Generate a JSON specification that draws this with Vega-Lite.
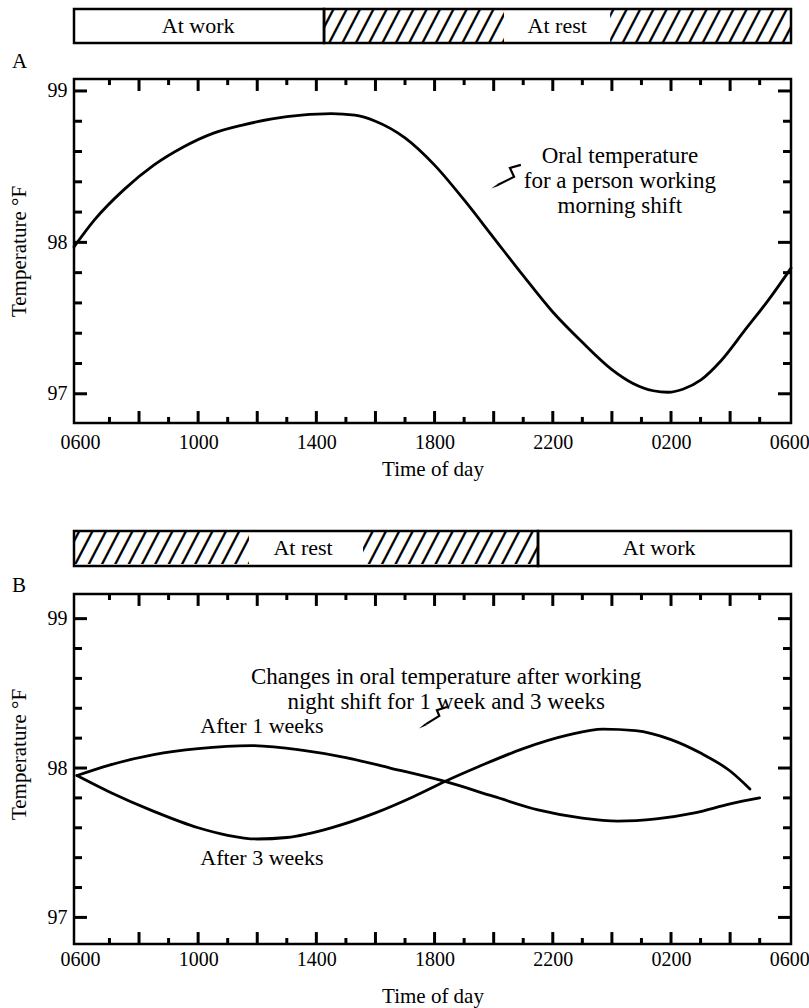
{
  "$schema": "https://vega.github.io/schema/vega-lite/v6.json",
  "background": "white",
  "padding": {"left": 6, "top": 7, "right": 5, "bottom": 5},
  "config": {
    "font": "Liberation Serif",
    "view": {"stroke": null},
    "axis": {"grid": false, "domain": false, "ticks": false, "tickSize": 0, "labelFont": "Liberation Serif", "titleFont": "Liberation Serif", "labelColor": "black", "titleColor": "black", "labelFontSize": 20, "titleFontSize": 21, "titleFontWeight": "normal", "labelOverlap": false, "labelFlush": false, "labelBound": false},
    "text": {"font": "Liberation Serif", "color": "black"},
    "rule": {"color": "black", "strokeWidth": 3},
    "title": {"font": "Liberation Serif", "fontWeight": "normal", "color": "black"}
  },
  "datasets": {
    "barA": [
      {"state": "At work", "start": 5.8, "end": 14.26, "lx": 10.0},
      {"state": "At rest", "start": 14.26, "end": 30.06, "lx": 22.15, "g0": 20.35, "g1": 23.94}
    ],
    "barB": [
      {"state": "At rest", "start": 5.8, "end": 21.5, "lx": 13.55, "g0": 11.72, "g1": 15.58},
      {"state": "At work", "start": 21.5, "end": 30.06, "lx": 25.6}
    ],
    "xticks": [
      {"t": 7, "k": "minor"}, {"t": 8, "k": "major"}, {"t": 9, "k": "minor"}, {"t": 10, "k": "major"}, {"t": 11, "k": "minor"},
      {"t": 12, "k": "major"}, {"t": 13, "k": "minor"}, {"t": 14, "k": "major"}, {"t": 15, "k": "minor"}, {"t": 16, "k": "major"},
      {"t": 17, "k": "minor"}, {"t": 18, "k": "major"}, {"t": 19, "k": "minor"}, {"t": 20, "k": "major"}, {"t": 21, "k": "minor"},
      {"t": 22, "k": "major"}, {"t": 23, "k": "minor"}, {"t": 24, "k": "major"}, {"t": 25, "k": "minor"}, {"t": 26, "k": "major"},
      {"t": 27, "k": "minor"}, {"t": 28, "k": "major"}, {"t": 29, "k": "minor"}
    ],
    "yticks": [
      {"v": 97, "k": "major"}, {"v": 97.2, "k": "minor"}, {"v": 97.4, "k": "minor"}, {"v": 97.6, "k": "minor"}, {"v": 97.8, "k": "minor"},
      {"v": 98, "k": "major"}, {"v": 98.2, "k": "minor"}, {"v": 98.4, "k": "minor"}, {"v": 98.6, "k": "minor"}, {"v": 98.8, "k": "minor"},
      {"v": 99, "k": "major"}
    ],
    "tempA": [
      {"t": 5.8, "temp": 97.97}, {"t": 6.5, "temp": 98.15}, {"t": 7.5, "temp": 98.35}, {"t": 8.5, "temp": 98.51},
      {"t": 9.5, "temp": 98.63}, {"t": 10.5, "temp": 98.72}, {"t": 11.5, "temp": 98.775}, {"t": 12.5, "temp": 98.815},
      {"t": 13.5, "temp": 98.84}, {"t": 14.5, "temp": 98.85}, {"t": 15.3, "temp": 98.84}, {"t": 16.0, "temp": 98.80},
      {"t": 17.0, "temp": 98.69}, {"t": 18.0, "temp": 98.51}, {"t": 19.0, "temp": 98.28}, {"t": 20.0, "temp": 98.03},
      {"t": 21.0, "temp": 97.78}, {"t": 22.0, "temp": 97.54}, {"t": 23.0, "temp": 97.34}, {"t": 24.0, "temp": 97.16},
      {"t": 24.7, "temp": 97.07}, {"t": 25.4, "temp": 97.02}, {"t": 25.9, "temp": 97.01}, {"t": 26.4, "temp": 97.03},
      {"t": 27.0, "temp": 97.09}, {"t": 27.7, "temp": 97.22}, {"t": 28.5, "temp": 97.42}, {"t": 29.3, "temp": 97.62},
      {"t": 30.06, "temp": 97.83}
    ],
    "tempB": [
      {"s": "1 week", "t": 5.9, "temp": 97.95}, {"s": "1 week", "t": 7.0, "temp": 98.02}, {"s": "1 week", "t": 8.5, "temp": 98.09},
      {"s": "1 week", "t": 10.0, "temp": 98.13}, {"s": "1 week", "t": 11.8, "temp": 98.15}, {"s": "1 week", "t": 13.5, "temp": 98.12},
      {"s": "1 week", "t": 15.0, "temp": 98.07}, {"s": "1 week", "t": 16.5, "temp": 98.0}, {"s": "1 week", "t": 18.35, "temp": 97.91},
      {"s": "1 week", "t": 20.0, "temp": 97.81}, {"s": "1 week", "t": 21.5, "temp": 97.72}, {"s": "1 week", "t": 23.0, "temp": 97.665},
      {"s": "1 week", "t": 24.2, "temp": 97.645}, {"s": "1 week", "t": 25.5, "temp": 97.66}, {"s": "1 week", "t": 26.8, "temp": 97.70},
      {"s": "1 week", "t": 28.0, "temp": 97.76}, {"s": "1 week", "t": 29.0, "temp": 97.80},
      {"s": "3 weeks", "t": 5.9, "temp": 97.95}, {"s": "3 weeks", "t": 7.0, "temp": 97.84}, {"s": "3 weeks", "t": 8.5, "temp": 97.71},
      {"s": "3 weeks", "t": 10.0, "temp": 97.60}, {"s": "3 weeks", "t": 11.0, "temp": 97.55}, {"s": "3 weeks", "t": 12.0, "temp": 97.525},
      {"s": "3 weeks", "t": 13.0, "temp": 97.535}, {"s": "3 weeks", "t": 14.5, "temp": 97.60}, {"s": "3 weeks", "t": 16.0, "temp": 97.70},
      {"s": "3 weeks", "t": 17.3, "temp": 97.81}, {"s": "3 weeks", "t": 18.35, "temp": 97.91}, {"s": "3 weeks", "t": 19.5, "temp": 98.01},
      {"s": "3 weeks", "t": 21.0, "temp": 98.13}, {"s": "3 weeks", "t": 22.5, "temp": 98.22}, {"s": "3 weeks", "t": 23.7, "temp": 98.26},
      {"s": "3 weeks", "t": 24.8, "temp": 98.25}, {"s": "3 weeks", "t": 26.0, "temp": 98.19}, {"s": "3 weeks", "t": 27.0, "temp": 98.10},
      {"s": "3 weeks", "t": 28.0, "temp": 97.98}, {"s": "3 weeks", "t": 28.67, "temp": 97.86}
    ],
    "noteA": [{"t": 24.27, "temp": 98.57, "label": "Oral temperature\nfor a person working\nmorning shift"}],
    "noteB": [{"t": 18.39, "temp": 98.61, "label": "Changes in oral temperature after working\nnight shift for 1 week and 3 weeks"}],
    "curveLabB": [{"t": 12.16, "temp": 98.28, "label": "After 1 weeks"}, {"t": 12.16, "temp": 97.40, "label": "After 3 weeks"}],
    "arrowA": [{"i": 1, "t": 20.92, "temp": 98.512}, {"i": 2, "t": 20.55, "temp": 98.492}, {"i": 3, "t": 20.69, "temp": 98.433}, {"i": 4, "t": 20.15, "temp": 98.38}],
    "headA": [{"t": 20.08, "temp": 98.372}],
    "arrowB": [{"i": 1, "t": 18.42, "temp": 98.409}, {"i": 2, "t": 18.08, "temp": 98.387}, {"i": 3, "t": 18.16, "temp": 98.349}, {"i": 4, "t": 17.71, "temp": 98.294}],
    "headB": [{"t": 17.63, "temp": 98.284}]
  },
  "spacing": 28,
  "bounds": "flush",
  "vconcat": [
    {
      "width": 717, "height": 42,
      "data": {"name": "barA"},
      "layer": [
        {
          "transform": [{"filter": "datum.state === 'At rest'"}],
          "mark": {"type": "text", "text": "////////////////////////////////////////////", "fontSize": 48, "fontStyle": "italic", "clip": true, "baseline": "middle", "align": "center", "dy": 2, "font": "Liberation Serif"},
          "encoding": {
            "x": {"field": "lx", "type": "quantitative", "scale": {"domain": [5.8, 30.06], "nice": false, "zero": false}, "axis": null},
            "y": {"datum": 0.5, "type": "quantitative", "scale": {"domain": [-0.23529, 1], "nice": false, "zero": false}, "axis": null}
          }
        },
        {
          "transform": [{"filter": "datum.state === 'At rest'"}],
          "mark": {"type": "rect", "fill": "white", "strokeWidth": 0},
          "encoding": {"x": {"field": "start", "type": "quantitative"}, "x2": {"field": "end"}, "y": {"datum": -0.23529, "type": "quantitative"}, "y2": {"datum": 0}}
        },
        {
          "transform": [{"filter": "datum.state === 'At work'"}],
          "mark": {"type": "rect", "fill": "white", "strokeWidth": 0},
          "encoding": {"x": {"field": "start", "type": "quantitative"}, "x2": {"field": "end"}, "y": {"datum": 0, "type": "quantitative"}, "y2": {"datum": 1}}
        },
        {
          "transform": [{"filter": "datum.state === 'At rest'"}],
          "mark": {"type": "rect", "fill": "white", "strokeWidth": 0},
          "encoding": {"x": {"field": "g0", "type": "quantitative"}, "x2": {"field": "g1"}, "y": {"datum": 0, "type": "quantitative"}, "y2": {"datum": 1}}
        },
        {
          "mark": {"type": "rect", "fillOpacity": 0, "stroke": "black", "strokeWidth": 2.5},
          "encoding": {"x": {"field": "start", "type": "quantitative"}, "x2": {"field": "end"}, "y": {"datum": 0, "type": "quantitative"}, "y2": {"datum": 1}}
        },
        {
          "mark": {"type": "text", "fontSize": 22, "baseline": "middle", "align": "center"},
          "encoding": {"x": {"field": "lx", "type": "quantitative"}, "y": {"datum": 0.5, "type": "quantitative"}, "text": {"field": "state"}}
        }
      ]
    },
    {
      "width": 717, "height": 344,
      "view": {"stroke": "black", "strokeWidth": 2.5},
      "title": {"text": "A", "anchor": "start", "frame": "group", "orient": "top", "offset": 10, "dx": -62, "dy": 21, "baseline": "alphabetic", "fontSize": 21, "fontWeight": "normal"},
      "resolve": {"axis": {"x": "independent", "y": "independent"}},
      "layer": [
        {
          "data": {"name": "tempA"},
          "mark": {"type": "line", "interpolate": "monotone", "color": "black", "strokeWidth": 2.8, "strokeCap": "round"},
          "encoding": {
            "x": {"field": "t", "type": "quantitative", "scale": {"domain": [5.8, 30.06], "nice": false, "zero": false},
              "axis": {"orient": "bottom", "values": [6, 10, 14, 18, 22, 26, 30],
                "labelExpr": "format((datum.value % 24) * 100, '04d')",
                "labelPadding": 9, "title": "Time of day", "titleY": 52, "titleBaseline": "alphabetic"}},
            "y": {"field": "temp", "type": "quantitative", "scale": {"domain": [96.807, 99.079], "nice": false, "zero": false},
              "axis": {"orient": "left", "values": [97, 98, 99], "format": "d",
                "labelPadding": 7, "title": "Temperature °F", "titleX": -49, "titleBaseline": "alphabetic"}}
          }
        },
        {
          "data": {"name": "xticks"}, "transform": [{"filter": "datum.k === 'major'"}],
          "mark": {"type": "rule", "color": "black", "strokeWidth": 3},
          "encoding": {"x": {"field": "t", "type": "quantitative", "axis": null}, "y": {"datum": 96.807, "type": "quantitative", "axis": null}, "y2": {"datum": 96.886}}
        },
        {
          "data": {"name": "xticks"}, "transform": [{"filter": "datum.k === 'minor'"}],
          "mark": {"type": "rule", "color": "black", "strokeWidth": 3},
          "encoding": {"x": {"field": "t", "type": "quantitative", "axis": null}, "y": {"datum": 96.807, "type": "quantitative", "axis": null}, "y2": {"datum": 96.847}}
        },
        {
          "data": {"name": "xticks"}, "transform": [{"filter": "datum.k === 'major'"}],
          "mark": {"type": "rule", "color": "black", "strokeWidth": 3},
          "encoding": {"x": {"field": "t", "type": "quantitative", "axis": null}, "y": {"datum": 99.079, "type": "quantitative", "axis": null}, "y2": {"datum": 99.0}}
        },
        {
          "data": {"name": "xticks"}, "transform": [{"filter": "datum.k === 'minor'"}],
          "mark": {"type": "rule", "color": "black", "strokeWidth": 3},
          "encoding": {"x": {"field": "t", "type": "quantitative", "axis": null}, "y": {"datum": 99.079, "type": "quantitative", "axis": null}, "y2": {"datum": 99.039}}
        },
        {
          "data": {"name": "yticks"}, "transform": [{"filter": "datum.k === 'major'"}],
          "mark": {"type": "rule", "color": "black", "strokeWidth": 3},
          "encoding": {"y": {"field": "v", "type": "quantitative", "axis": null}, "x": {"datum": 5.8, "type": "quantitative", "axis": null}, "x2": {"datum": 6.24}}
        },
        {
          "data": {"name": "yticks"}, "transform": [{"filter": "datum.k === 'minor'"}],
          "mark": {"type": "rule", "color": "black", "strokeWidth": 3},
          "encoding": {"y": {"field": "v", "type": "quantitative", "axis": null}, "x": {"datum": 5.8, "type": "quantitative", "axis": null}, "x2": {"datum": 6.07}}
        },
        {
          "data": {"name": "yticks"}, "transform": [{"filter": "datum.k === 'major'"}],
          "mark": {"type": "rule", "color": "black", "strokeWidth": 3},
          "encoding": {"y": {"field": "v", "type": "quantitative", "axis": null}, "x": {"datum": 30.06, "type": "quantitative", "axis": null}, "x2": {"datum": 29.62}}
        },
        {
          "data": {"name": "yticks"}, "transform": [{"filter": "datum.k === 'minor'"}],
          "mark": {"type": "rule", "color": "black", "strokeWidth": 3},
          "encoding": {"y": {"field": "v", "type": "quantitative", "axis": null}, "x": {"datum": 30.06, "type": "quantitative", "axis": null}, "x2": {"datum": 29.79}}
        },
        {
          "data": {"name": "noteA"},
          "mark": {"type": "text", "lineBreak": "\n", "fontSize": 23, "lineHeight": 25, "align": "center", "baseline": "middle"},
          "encoding": {
            "x": {"field": "t", "type": "quantitative", "axis": null},
            "y": {"field": "temp", "type": "quantitative", "axis": null},
            "text": {"field": "label"}
          }
        },
        {
          "data": {"name": "arrowA"},
          "mark": {"type": "line", "color": "black", "strokeWidth": 2.2},
          "encoding": {
            "x": {"field": "t", "type": "quantitative", "axis": null},
            "y": {"field": "temp", "type": "quantitative", "axis": null},
            "order": {"field": "i", "type": "quantitative"}
          }
        },
        {
          "data": {"name": "headA"},
          "mark": {"type": "point", "shape": "wedge", "filled": true, "color": "black", "opacity": 1, "size": 90, "angle": 243},
          "encoding": {
            "x": {"field": "t", "type": "quantitative", "axis": null},
            "y": {"field": "temp", "type": "quantitative", "axis": null}
          }
        }
      ]
    },
    {
      "width": 717, "height": 115,
      "data": {"name": "barB"},
      "layer": [
        {
          "transform": [{"filter": "datum.state === 'At rest'"}],
          "mark": {"type": "text", "text": "////////////////////////////////////////////", "fontSize": 48, "fontStyle": "italic", "clip": true, "baseline": "middle", "align": "center", "dy": 2, "font": "Liberation Serif"},
          "encoding": {
            "x": {"field": "lx", "type": "quantitative", "scale": {"domain": [5.8, 30.06], "nice": false, "zero": false}, "axis": null},
            "y": {"datum": 0.5, "type": "quantitative", "scale": {"domain": [0, 3.2857], "nice": false, "zero": false}, "axis": null}
          }
        },
        {
          "transform": [{"filter": "datum.state === 'At rest'"}],
          "mark": {"type": "rect", "fill": "white", "strokeWidth": 0},
          "encoding": {"x": {"field": "start", "type": "quantitative"}, "x2": {"field": "end"}, "y": {"datum": 1, "type": "quantitative"}, "y2": {"datum": 1.3}}
        },
        {
          "transform": [{"filter": "datum.state === 'At work'"}],
          "mark": {"type": "rect", "fill": "white", "strokeWidth": 0},
          "encoding": {"x": {"field": "start", "type": "quantitative"}, "x2": {"field": "end"}, "y": {"datum": 0, "type": "quantitative"}, "y2": {"datum": 1}}
        },
        {
          "transform": [{"filter": "datum.state === 'At rest'"}],
          "mark": {"type": "rect", "fill": "white", "strokeWidth": 0},
          "encoding": {"x": {"field": "g0", "type": "quantitative"}, "x2": {"field": "g1"}, "y": {"datum": 0, "type": "quantitative"}, "y2": {"datum": 1}}
        },
        {
          "mark": {"type": "rect", "fillOpacity": 0, "stroke": "black", "strokeWidth": 2.5},
          "encoding": {"x": {"field": "start", "type": "quantitative"}, "x2": {"field": "end"}, "y": {"datum": 0, "type": "quantitative"}, "y2": {"datum": 1}}
        },
        {
          "mark": {"type": "text", "fontSize": 22, "baseline": "middle", "align": "center"},
          "encoding": {"x": {"field": "lx", "type": "quantitative"}, "y": {"datum": 0.5, "type": "quantitative"}, "text": {"field": "state"}}
        }
      ]
    },
    {
      "width": 717, "height": 350,
      "view": {"stroke": "black", "strokeWidth": 2.5},
      "title": {"text": "B", "anchor": "start", "frame": "group", "orient": "top", "offset": 1, "dx": -62, "dy": 21, "baseline": "alphabetic", "fontSize": 21, "fontWeight": "normal"},
      "resolve": {"axis": {"x": "independent", "y": "independent"}},
      "layer": [
        {
          "data": {"name": "tempB"},
          "mark": {"type": "line", "interpolate": "monotone", "color": "black", "strokeWidth": 2.8, "strokeCap": "round"},
          "encoding": {
            "detail": {"field": "s"},
            "x": {"field": "t", "type": "quantitative", "scale": {"domain": [5.8, 30.06], "nice": false, "zero": false},
              "axis": {"orient": "bottom", "values": [6, 10, 14, 18, 22, 26, 30],
                "labelExpr": "format((datum.value % 24) * 100, '04d')",
                "labelPadding": 5, "title": "Time of day", "titleY": 58, "titleBaseline": "alphabetic"}},
            "y": {"field": "temp", "type": "quantitative", "scale": {"domain": [96.822, 99.165], "nice": false, "zero": false},
              "axis": {"orient": "left", "values": [97, 98, 99], "format": "d",
                "labelPadding": 7, "title": "Temperature °F", "titleX": -49, "titleY": 160, "titleBaseline": "alphabetic"}}
          }
        },
        {
          "data": {"name": "xticks"}, "transform": [{"filter": "datum.k === 'major'"}],
          "mark": {"type": "rule", "color": "black", "strokeWidth": 3},
          "encoding": {"x": {"field": "t", "type": "quantitative", "axis": null}, "y": {"datum": 96.822, "type": "quantitative", "axis": null}, "y2": {"datum": 96.902}}
        },
        {
          "data": {"name": "xticks"}, "transform": [{"filter": "datum.k === 'minor'"}],
          "mark": {"type": "rule", "color": "black", "strokeWidth": 3},
          "encoding": {"x": {"field": "t", "type": "quantitative", "axis": null}, "y": {"datum": 96.822, "type": "quantitative", "axis": null}, "y2": {"datum": 96.862}}
        },
        {
          "data": {"name": "xticks"}, "transform": [{"filter": "datum.k === 'major'"}],
          "mark": {"type": "rule", "color": "black", "strokeWidth": 3},
          "encoding": {"x": {"field": "t", "type": "quantitative", "axis": null}, "y": {"datum": 99.165, "type": "quantitative", "axis": null}, "y2": {"datum": 99.085}}
        },
        {
          "data": {"name": "xticks"}, "transform": [{"filter": "datum.k === 'minor'"}],
          "mark": {"type": "rule", "color": "black", "strokeWidth": 3},
          "encoding": {"x": {"field": "t", "type": "quantitative", "axis": null}, "y": {"datum": 99.165, "type": "quantitative", "axis": null}, "y2": {"datum": 99.125}}
        },
        {
          "data": {"name": "yticks"}, "transform": [{"filter": "datum.k === 'major'"}],
          "mark": {"type": "rule", "color": "black", "strokeWidth": 3},
          "encoding": {"y": {"field": "v", "type": "quantitative", "axis": null}, "x": {"datum": 5.8, "type": "quantitative", "axis": null}, "x2": {"datum": 6.24}}
        },
        {
          "data": {"name": "yticks"}, "transform": [{"filter": "datum.k === 'minor'"}],
          "mark": {"type": "rule", "color": "black", "strokeWidth": 3},
          "encoding": {"y": {"field": "v", "type": "quantitative", "axis": null}, "x": {"datum": 5.8, "type": "quantitative", "axis": null}, "x2": {"datum": 6.07}}
        },
        {
          "data": {"name": "yticks"}, "transform": [{"filter": "datum.k === 'major'"}],
          "mark": {"type": "rule", "color": "black", "strokeWidth": 3},
          "encoding": {"y": {"field": "v", "type": "quantitative", "axis": null}, "x": {"datum": 30.06, "type": "quantitative", "axis": null}, "x2": {"datum": 29.62}}
        },
        {
          "data": {"name": "yticks"}, "transform": [{"filter": "datum.k === 'minor'"}],
          "mark": {"type": "rule", "color": "black", "strokeWidth": 3},
          "encoding": {"y": {"field": "v", "type": "quantitative", "axis": null}, "x": {"datum": 30.06, "type": "quantitative", "axis": null}, "x2": {"datum": 29.79}}
        },
        {
          "data": {"name": "noteB"},
          "mark": {"type": "text", "lineBreak": "\n", "fontSize": 23, "lineHeight": 25, "align": "center", "baseline": "middle"},
          "encoding": {
            "x": {"field": "t", "type": "quantitative", "axis": null},
            "y": {"field": "temp", "type": "quantitative", "axis": null},
            "text": {"field": "label"}
          }
        },
        {
          "data": {"name": "arrowB"},
          "mark": {"type": "line", "color": "black", "strokeWidth": 2.2},
          "encoding": {
            "x": {"field": "t", "type": "quantitative", "axis": null},
            "y": {"field": "temp", "type": "quantitative", "axis": null},
            "order": {"field": "i", "type": "quantitative"}
          }
        },
        {
          "data": {"name": "headB"},
          "mark": {"type": "point", "shape": "wedge", "filled": true, "color": "black", "opacity": 1, "size": 90, "angle": 238},
          "encoding": {
            "x": {"field": "t", "type": "quantitative", "axis": null},
            "y": {"field": "temp", "type": "quantitative", "axis": null}
          }
        },
        {
          "data": {"name": "curveLabB"},
          "mark": {"type": "text", "fontSize": 22, "align": "center", "baseline": "middle"},
          "encoding": {
            "x": {"field": "t", "type": "quantitative", "axis": null},
            "y": {"field": "temp", "type": "quantitative", "axis": null},
            "text": {"field": "label"}
          }
        }
      ]
    }
  ]
}
